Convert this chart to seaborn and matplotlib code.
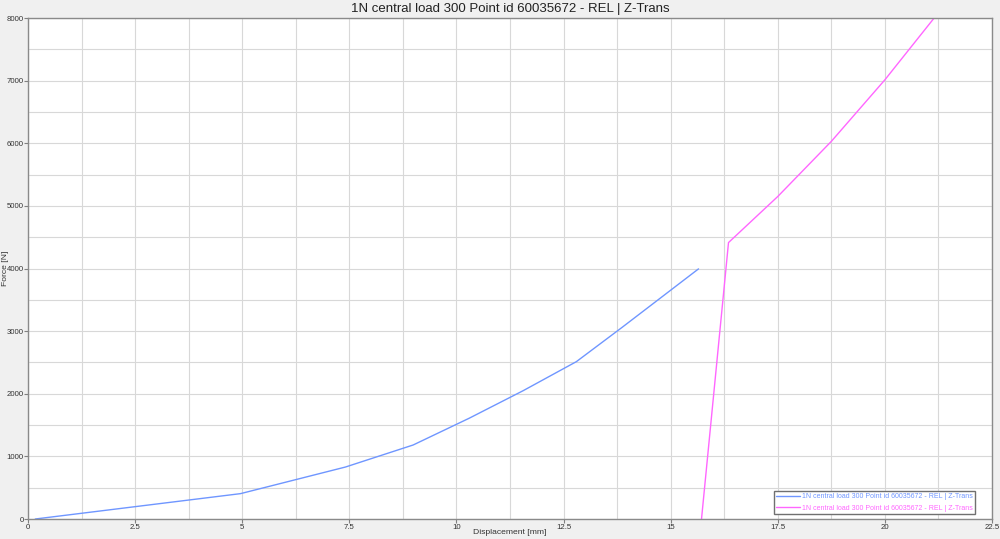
import matplotlib
matplotlib.use("Agg")
import matplotlib.pyplot as plt
import seaborn as sns
import pandas as pd
from matplotlib.ticker import MultipleLocator

title = "1N central load 300 Point id 60035672 - REL | Z-Trans"
series_label = "1N central load 300 Point id 60035672 - REL | Z-Trans"

blue_x = [0.17, 4.96, 7.41, 8.99, 10.3, 11.56, 12.8, 13.87, 15.65]
blue_y = [0, 405, 830, 1182, 1610, 2050, 2513, 3062, 3994]

mag_x = [15.72, 16.35, 17.5, 18.75, 20.0, 21.15, 21.5]
mag_y = [0, 4414, 5150, 6030, 7013, 8000, 8320]

sns.set_theme(style="whitegrid")
plt.rcParams['font.family'] = ['Liberation Sans', 'DejaVu Sans']

fig = plt.figure(figsize=(10, 5.39), dpi=100, facecolor="#f0f0f0")
ax = fig.add_axes([0.028, 0.0371, 0.964, 0.9295])
ax.set_facecolor("white")

df_b = pd.DataFrame({"x": blue_x, "y": blue_y})
df_m = pd.DataFrame({"x": mag_x, "y": mag_y})
sns.lineplot(data=df_b, x="x", y="y", ax=ax, color="#6f96ff", lw=1.0, sort=False,
             label=series_label)
sns.lineplot(data=df_m, x="x", y="y", ax=ax, color="#ff66ff", lw=1.0, sort=False,
             label=series_label)

ax.set_xlim(0, 22.5)
ax.set_ylim(0, 8000)
ax.xaxis.set_minor_locator(MultipleLocator(1.25))
ax.yaxis.set_major_locator(MultipleLocator(1000))
ax.yaxis.set_minor_locator(MultipleLocator(500))
ax.set_xticks([0, 2.5, 5, 7.5, 10, 12.5, 15, 17.5, 20, 22.5])
ax.set_xticklabels(["0", "2.5", "5", "7.5", "10", "12.5", "15", "17.5", "20", "22.5"])
ax.grid(True, which="both", color="#d8d8d8", lw=0.8)
ax.tick_params(axis="both", which="major", labelsize=5.6, length=3, width=0.8,
               color="#808080", labelcolor="#333333", direction="out",
               bottom=True, left=True)
ax.tick_params(axis="x", which="major", pad=0.5)
ax.tick_params(axis="y", which="major", pad=0)
ax.tick_params(axis="both", which="minor", length=0)
for s in ax.spines.values():
    s.set_color("#8a8a8a")
    s.set_linewidth(1.0)

ax.set_xlabel("Displacement [mm]", fontsize=6.1, color="#333333")
ax.xaxis.set_label_coords(0.5, -0.026)
ax.xaxis.label.set_va("center")
ax.set_ylabel("Force [N]", fontsize=6.1, color="#333333")
ax.yaxis.set_label_coords(-0.0238, 0.5)
ax.yaxis.label.set_va("center")
ax.set_title(title, fontsize=9.5, color="#222222", pad=4)

leg = ax.legend(loc="lower right", bbox_to_anchor=(0.9824, 0.01), fontsize=5,
                frameon=True, fancybox=False, edgecolor="#707070", framealpha=1,
                borderpad=0.35, handlelength=3.4, labelspacing=0.6,
                borderaxespad=0, handletextpad=0.3)
leg.get_frame().set_linewidth(1.0)
for txt, c in zip(leg.get_texts(), ["#6f96ff", "#ff66ff"]):
    txt.set_color(c)

fig.savefig("out.png", dpi=100, facecolor=fig.get_facecolor())
